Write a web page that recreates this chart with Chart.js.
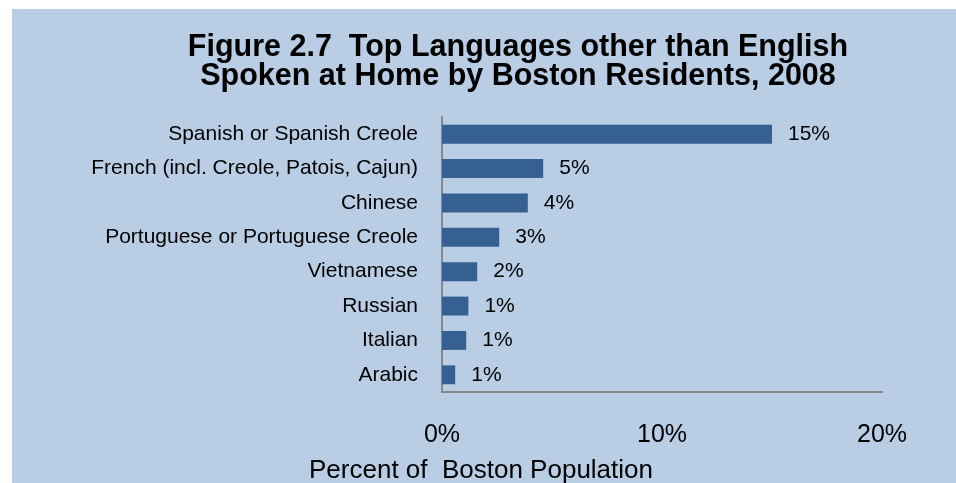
<!DOCTYPE html>
<html>
<head>
<meta charset="utf-8">
<script src="https://cdn.jsdelivr.net/npm/chart.js@4.4.1/dist/chart.umd.min.js"></script>
<style>
    body { margin: 0; background: #ffffff; }
    #wrap {
        position: absolute; left: 12px; top: 9px;
        width: 944px; height: 474px;
        background: #b9cde5;
    }
</style>
</head>
<body>
<div id="wrap"><canvas id="myChart" width="944" height="474"></canvas></div>
<script>
// languages, top to bottom
const languages = [
    'Spanish or Spanish Creole',
    'French (incl. Creole, Patois, Cajun)',
    'Chinese',
    'Portuguese or Portuguese Creole',
    'Vietnamese',
    'Russian',
    'Italian',
    'Arabic'
];
// percent of Boston population
const shares = [15.0, 4.6, 3.9, 2.6, 1.6, 1.2, 1.1, 0.6];
const xTicks = [0, 10, 20];
const titleLines = ['Figure 2.7  Top Languages other than English', 'Spoken at Home by Boston Residents, 2008'];
const axisTitle = 'Percent of  Boston Population';

const FONT = '"Liberation Sans", Arial, sans-serif';
Chart.defaults.font.family = FONT;
Chart.defaults.color = '#000000';

// value labels at the end of each bar
const barLabels = {
    id: 'barLabels',
    afterDatasetsDraw(chart) {
        const c = chart.ctx;
        const meta = chart.getDatasetMeta(0);
        c.save();
        c.font = '21px ' + FONT;
        c.fillStyle = '#000000';
        c.textAlign = 'left';
        c.textBaseline = 'middle';
        meta.data.forEach(function (bar, i) {
            c.fillText(Math.round(shares[i]) + '%', bar.x + 16, bar.y);
        });
        c.restore();
    }
};

// chart title and x axis title; the original centres them off the plot area
const titles = {
    id: 'titles',
    afterDraw(chart) {
        const c = chart.ctx;
        c.save();
        c.fillStyle = '#000000';
        c.textAlign = 'center';
        c.textBaseline = 'alphabetic';
        c.font = 'bold 30.5px ' + FONT;
        titleLines.forEach(function (line, i) {
            c.fillText(line, 506, 47 + i * 29);
        });
        c.font = '26px ' + FONT;
        c.fillText(axisTitle, chart.width / 2 - 3, chart.height - 5);
        c.restore();
    }
};

let ctx = document.getElementById('myChart').getContext('2d');
let chart = new Chart(ctx, {
    type: 'bar',
    data: {
        labels: languages,
        datasets: [{
            data: shares,
            backgroundColor: '#376092',
            borderWidth: 0,
            barPercentage: 0.55,
            categoryPercentage: 1
        }]
    },
    options: {
        indexAxis: 'y',
        responsive: false,
        animation: false,
        layout: { padding: { left: 0, right: 74, top: 108, bottom: 0 } },
        plugins: {
            legend: { display: false },
            tooltip: { enabled: false },
            title: { display: false }
        },
        scales: {
            x: {
                min: 0,
                max: 20,
                afterBuildTicks: function (scale) {
                    scale.ticks = xTicks.map(v => ({ value: v }));
                },
                afterFit: function (scale) { scale.height = 91; },
                grid: { display: false, drawTicks: false },
                border: { display: true, color: '#878787', width: 2 },
                ticks: {
                    padding: 28,
                    font: { size: 25 },
                    callback: v => v + '%'
                }
            },
            y: {
                afterFit: function (scale) { scale.width = 430; },
                grid: { display: false, drawTicks: false },
                border: { display: true, color: '#878787', width: 2 },
                ticks: {
                    padding: 24,
                    font: { size: 21 }
                }
            }
        }
    },
    plugins: [barLabels, titles]
});
</script>
</body>
</html>
